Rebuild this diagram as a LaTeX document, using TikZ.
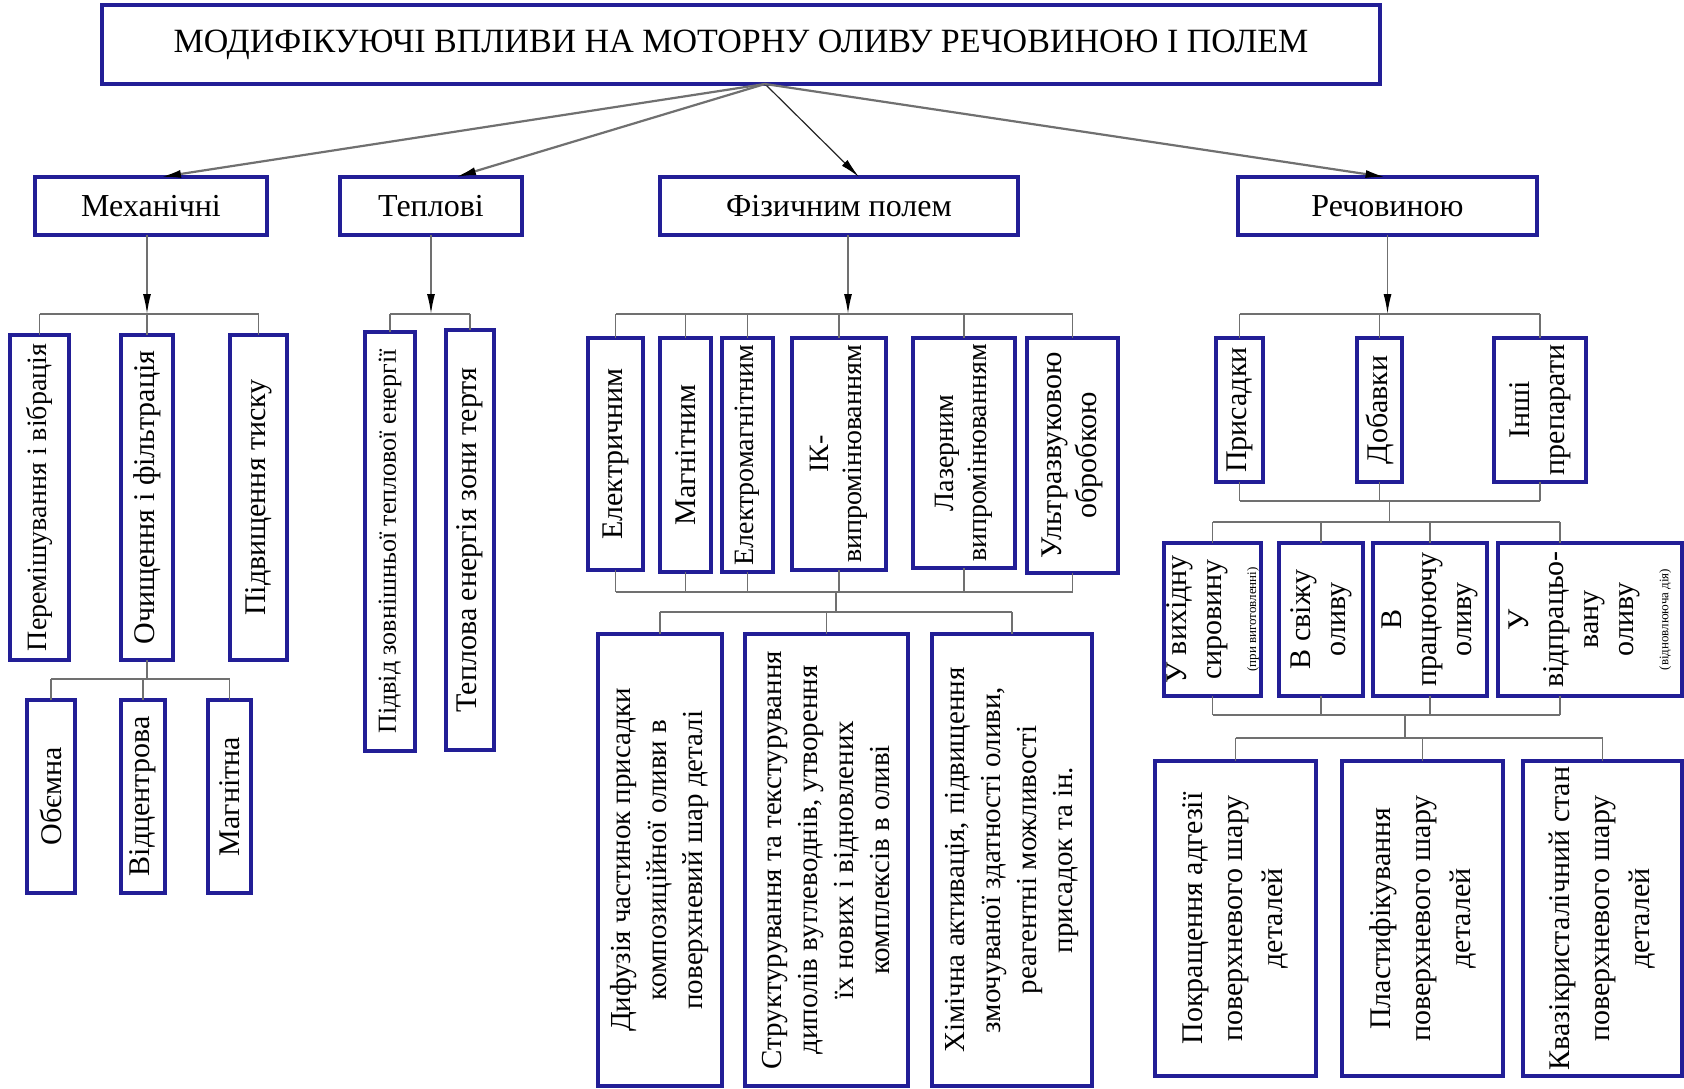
\documentclass[tikz,border=0pt]{standalone}
\usepackage{fontspec}
\setmainfont{Liberation Serif}
\usetikzlibrary{arrows.meta,calc}
\definecolor{boxblue}{RGB}{34,30,150}
\definecolor{lngray}{RGB}{112,112,112}
\newcommand{\fT}{\fontsize{34}{40}\selectfont}
\newcommand{\fL}{\fontsize{32}{38}\selectfont}
\newcommand{\fR}{\fontsize{30}{40}\selectfont}
\newcommand{\fV}{\fontsize{30}{35}\selectfont}
\newcommand{\fM}{\fontsize{28}{33}\selectfont}
\newcommand{\fW}{\fontsize{29}{36}\selectfont}
\newcommand{\fS}{\fontsize{26}{31}\selectfont}
\newcommand{\fN}{\fontsize{13}{15}\selectfont}
% horizontal box with text
\newcommand{\hbx}[7]{\node[box,font=#6,minimum width={#4-#2},minimum height={#5-#3}] (#1) at ({(#2+#4)/2},{(#3+#5)/2}) {#7};}
% box with vertical (rotated) text
\newcommand{\vbx}[7]{\node[box,minimum width={#4-#2},minimum height={#5-#3}] (#1) at ({(#2+#4)/2},{(#3+#5)/2}) {};
  \node[vt,font=#6] (#1-t) at (#1.center) {#7};}
\begin{document}
\begin{tikzpicture}[x=1pt,y=-1pt,
  box/.style={draw=boxblue,line width=3.4pt,fill=white,inner sep=0pt,outer sep=0pt},
  vt/.style={rotate=90,align=center,inner sep=0pt},
  conn/.style={draw=lngray,line width=1.6pt},
  bigarr/.style={draw=lngray,line width=2.2pt,-{Latex[length=20pt,width=8pt,color=black]}},
  thinarr/.style={draw=black!85,line width=1.2pt,-{Latex[length=20pt,width=8pt,color=black]}},
  varr/.style={draw=lngray,line width=1.5pt,-{Latex[length=20pt,width=8pt,color=black]}}]
\useasboundingbox (0,0) rectangle (1684,1089);
\fill[white] (0,0) rectangle (1684,1089);

% title and first level
\hbx{title}{102}{5}{1380}{84}{\fT}{МОДИФІКУЮЧІ ВПЛИВИ НА МОТОРНУ ОЛИВУ РЕЧОВИНОЮ І ПОЛЕМ}
\hbx{mech}{35}{177}{267}{235}{\fL}{Механічні}
\hbx{heat}{340}{177}{522}{235}{\fL}{Теплові}
\hbx{phys}{660}{177}{1018}{235}{\fL}{Фізичним полем}
\hbx{subs}{1238}{177}{1537}{235}{\fL}{Речовиною}

% mechanical
\vbx{mix}{10}{335}{69}{660}{\fM}{Перемішування і вібрація}
\vbx{clean}{121}{335}{173}{660}{\fV}{Очищення і фільтрація}
\vbx{press}{230}{335}{287}{660}{\fV}{Підвищення тиску}
\vbx{vol}{27}{700}{75}{893}{\fV}{Обємна}
\vbx{cent}{121}{700}{165}{893}{\fV}{Відцентрова}
\vbx{magn}{208}{700}{251}{893}{\fV}{Магнітна}

% thermal
\vbx{sup}{365}{332}{415}{751}{\fS}{Підвід зовнішньої теплової енергії}
\vbx{fric}{446}{330}{494}{750}{\fV}{Теплова енергія зони тертя}

% physical field
\vbx{el}{588}{338}{643}{570}{\fV}{Електричним}
\vbx{mag}{660}{338}{711}{572}{\fV}{Магнітним}
\vbx{em}{722}{338}{773}{572}{\fM}{Електромагнітним}
\vbx{ir}{792}{338}{886}{570}{\fM}{ІК-\\випромінюванням}
\vbx{las}{913}{338}{1015}{568}{\fM}{Лазерним\\випромінюванням}
\vbx{us}{1027}{338}{1118}{573}{\fV}{Ультразвуковою\\обробкою}
\vbx{dif}{598}{634}{722}{1086}{\fW}{Дифузія частинок присадки\\композиційної оливи в\\поверхневий шар деталі}
\vbx{str}{745}{634}{908}{1086}{\fW}{Структурування та текстурування\\диполів вуглеводнів, утворення\\їх нових і відновлених\\комплексів в оливі}
\vbx{chem}{932}{634}{1092}{1086}{\fW}{Хімічна активація, підвищення\\змочуваної здатності оливи,\\реагентні можливості\\присадок та ін.}

% substance
\vbx{pris}{1216}{338}{1263}{482}{\fV}{Присадки}
\vbx{dob}{1357}{338}{1402}{482}{\fV}{Добавки}
\vbx{other}{1494}{338}{1586}{482}{\fV}{Інші\\препарати}
\vbx{raw}{1164}{543}{1261}{696}{\fV}{У вихідну\\сировину\\{\fN(при виготовленні)}}
\vbx{fresh}{1279}{543}{1363}{696}{\fV}{В свіжу\\оливу}
\vbx{work}{1373}{543}{1487}{696}{\fV}{В\\працюючу\\оливу}
\vbx{used}{1498}{543}{1682}{696}{\fV}{У\\відпрацьо-\\вану\\оливу\\{\fN(відновлююча дія)}}
\vbx{adh}{1155}{761}{1316}{1076}{\fR}{Покращення адгезії\\поверхневого шару\\деталей}
\vbx{plast}{1342}{761}{1503}{1076}{\fR}{Пластифікування\\поверхневого шару\\деталей}
\vbx{quasi}{1523}{761}{1682}{1076}{\fR}{Квазікристалічний стан\\поверхневого шару\\деталей}

% bus levels
\coordinate (mb) at (0,314);
\coordinate (cb) at (0,679);
\coordinate (pb) at (0,592);
\coordinate (pl) at (0,612);
\coordinate (sb) at (0,501);
\coordinate (sc) at (0,522);
\coordinate (sd) at (0,715);
\coordinate (se) at (0,738);
\coordinate (ud) at (1560,0);
\coordinate (jx) at (1405,0);
\coordinate (px) at (836,0);

% arrows from title
\coordinate (src) at ([xshift=24pt]title.south);
\draw[bigarr] (src) -- ([xshift=10pt]mech.north);
\draw[bigarr] (src) -- ([xshift=25pt]heat.north);
\draw[thinarr] (src) -- ([xshift=20pt]phys.north);
\draw[bigarr] (src) -- ([xshift=-2pt]subs.north);

% mechanical tree
\draw[varr] (clean.north |- mech.south) -- (clean.north |- mb);
\draw[conn] (mix.north |- mb) -- (press.north |- mb);
\foreach \n in {mix,clean,press} \draw[conn] (\n.north) -- (\n.north |- mb);
\draw[conn] (clean.south) -- (clean.south |- cb);
\draw[conn] (vol.north |- cb) -- (magn.north |- cb);
\foreach \n in {vol,cent,magn} \draw[conn] (\n.north) -- (\n.north |- cb);

% thermal tree
\draw[varr] (heat.south) -- (heat.south |- mb);
\draw[conn] (sup.north |- mb) -- (fric.north |- mb);
\foreach \n in {sup,fric} \draw[conn] (\n.north) -- (\n.north |- mb);

% physical tree
\draw[varr] ([xshift=9pt]phys.south) -- ([xshift=9pt]phys.south |- mb);
\draw[conn] (el.north |- mb) -- (us.north |- mb);
\foreach \n in {el,mag,em,ir,las,us} {
  \draw[conn] (\n.north) -- (\n.north |- mb);
  \draw[conn] (\n.south) -- (\n.south |- pb);}
\draw[conn] (el.south |- pb) -- (us.south |- pb);
\draw[conn] (px |- pb) -- (px |- pl);
\draw[conn] (dif.north |- pl) -- (chem.north |- pl);
\foreach \n in {dif,str,chem} \draw[conn] (\n.north) -- (\n.north |- pl);

% substance tree
\draw[varr] (subs.south) -- (subs.south |- mb);
\draw[conn] (pris.north |- mb) -- (other.north |- mb);
\foreach \n in {pris,dob,other} {
  \draw[conn] (\n.north) -- (\n.north |- mb);
  \draw[conn] (\n.south) -- (\n.south |- sb);}
\draw[conn] (pris.south |- sb) -- (other.south |- sb);
\draw[conn] ([xshift=10pt]dob.south |- sb) -- ([xshift=10pt]dob.south |- sc);
\draw[conn] (raw.north |- sc) -- (ud |- sc);
\foreach \n in {raw,fresh,work} {
  \draw[conn] (\n.north) -- (\n.north |- sc);
  \draw[conn] (\n.south) -- (\n.south |- sd);}
\draw[conn] (ud |- used.north) -- (ud |- sc);
\draw[conn] (ud |- used.south) -- (ud |- sd);
\draw[conn] (raw.south |- sd) -- (ud |- sd);
\draw[conn] (jx |- sd) -- (jx |- se);
\draw[conn] (adh.north |- se) -- (quasi.north |- se);
\foreach \n in {adh,plast,quasi} \draw[conn] (\n.north) -- (\n.north |- se);
\end{tikzpicture}
\end{document}
